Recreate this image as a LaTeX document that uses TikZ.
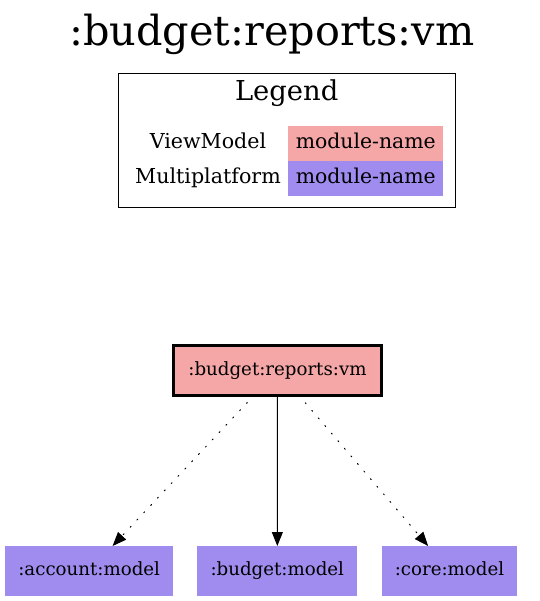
\documentclass[tikz,border=0pt]{standalone}
\usepackage{fontspec}
\setmainfont{DejaVu Serif}
\usetikzlibrary{arrows.meta}
\definecolor{vmpink}{HTML}{F5A6A6}
\definecolor{mpblue}{HTML}{A08CEE}
\tikzset{
  every node/.style={inner sep=0pt, outer sep=0pt},
  nodetext/.style={font=\fontsize{9.1}{11}\selectfont, text height=6.9pt, text depth=2pt},
  modbox/.style={nodetext, fill=mpblue, draw=none, minimum height=24.9pt},
  vmbox/.style={nodetext, fill=vmpink, draw=black, line width=1.5pt, minimum width=104.3pt, minimum height=24.9pt},
  cell/.style={minimum width=77.5pt, minimum height=17.5pt, font=\fontsize{10.2}{12}\selectfont, text height=7.3pt, text depth=2.5pt},
  leglabel/.style={font=\fontsize{10.3}{12}\selectfont, text height=7.3pt, text depth=2.5pt},
  dep/.style={line width=0.5pt, -{Triangle[length=7pt,width=5.5pt]}},
  dotdep/.style={dep, dash pattern=on 0.6pt off 4.4pt, line cap=round},
}
\begin{document}
\begin{tikzpicture}[x=0.5pt,y=-0.5pt]
\useasboundingbox (0,0) rectangle (540,601);
% title
\node[font=\fontsize{20.7}{24}\selectfont] (title) at (271.7,34) {:budget:reports:vm};
% legend
\node[draw=black, line width=0.5pt, minimum width=168.5pt, minimum height=67pt] (legend) at (286.5,140) {};
\node[font=\fontsize{13.7}{16}\selectfont] (legtitle) at (286.7,93) {Legend};
\node[leglabel] (lvm) at (208,143.5) {ViewModel};
\node[leglabel] (lmp) at (208,178.4) {Multiplatform};
\node[cell, fill=vmpink] (cvm) at (365.8,143.5) {module-name};
\node[cell, fill=mpblue] (cmp) at (365.8,178.4) {module-name};
% graph
\node[vmbox] (main) at (277.5,370.3) {:budget:reports:vm};
\node[modbox, minimum width=84.2pt] (account) at (89.2,570.9) {:account:model};
\node[modbox, minimum width=80pt] (budget) at (277.3,570.9) {:budget:model};
\node[modbox, minimum width=67.2pt] (core) at (449.5,570.9) {:core:model};
\draw[dotdep] (main) -- (account);
\draw[dep] (main) -- (budget);
\draw[dotdep] (main) -- (core);
\end{tikzpicture}
\end{document}
